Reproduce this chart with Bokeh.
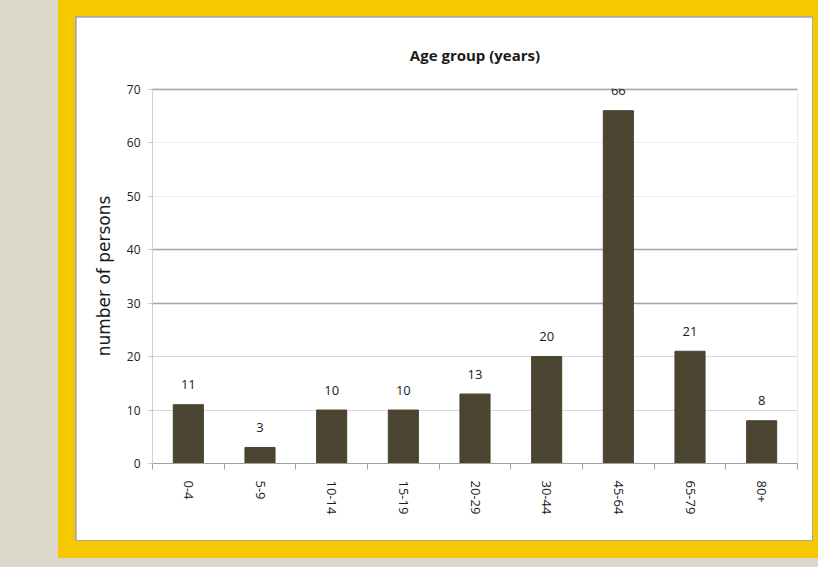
from bokeh.plotting import figure
from bokeh.models import (ColumnDataSource, FixedTicker, Grid, Column, Row, Spacer,
                          GlobalInlineStyleSheet, CustomJSTickFormatter)
from bokeh.embed import file_html
from bokeh.resources import INLINE
from bokeh.core.properties import value

# ---- data ----
title_text = "Age group (years)"
categories = ["0-4", "5-9", "10-14", "15-19", "20-29", "30-44", "45-64", "65-79", "80+"]
persons = [11, 3, 10, 10, 13, 20, 66, 21, 8]
y_ticks = [0, 10, 20, 30, 40, 50, 60, 70]
dark_grid = [30, 40, 70]
mid_grid = [10, 20]
light_grid = [50, 60]

FONT = "Open Sans"
BAR = "#4a4430"

xs = [i + 0.5 for i in range(len(categories))]
bounds = list(range(len(categories) + 1))
src = ColumnDataSource(dict(x=xs, persons=persons, label=[str(v) for v in persons]))

p = figure(width=736, height=523, x_range=(0, len(categories)), y_range=(0, 70.15),
           output_backend="svg", toolbar_location=None,
           min_border_left=76, min_border_right=15, min_border_top=71, min_border_bottom=77,
           background_fill_color="white", border_fill_color="white", outline_line_color=None)

p.title.text = title_text
p.title.align = "center"
p.title.text_font = FONT
p.title.text_font_size = "15px"
p.title.text_font_style = "bold"
p.title.text_color = "#1a1a1a"
p.title.standoff = 48

# grids
p.xgrid.visible = False
p.ygrid.ticker = FixedTicker(ticks=light_grid)
p.ygrid.grid_line_color = "#eeeeee"
p.ygrid.grid_line_width = 1
p.add_layout(Grid(dimension=1, ticker=FixedTicker(ticks=mid_grid),
                  grid_line_color="#d8d8d8", grid_line_width=1))
p.add_layout(Grid(dimension=1, ticker=FixedTicker(ticks=dark_grid),
                  grid_line_color="#a4a4a4", grid_line_width=1.5))

p.vbar(x="x", top="persons", width=0.42, source=src,
       fill_color=BAR, line_color=BAR, line_width=1)

p.text(x="x", y="persons", text="label", source=src, y_offset=-20,
       text_align="center", text_baseline="middle",
       text_font=value(FONT), text_font_size="13px", text_color="#1a1a1a")

# y axis
ya = p.yaxis[0]
ya.ticker = FixedTicker(ticks=y_ticks)
ya.axis_line_color = "#d0d0d0"
ya.major_tick_line_color = "#c8c8c8"
ya.major_tick_out = 4
ya.major_tick_in = 0
ya.minor_tick_out = 0
ya.minor_tick_in = 0
ya.major_label_standoff = 8
ya.major_label_text_font = FONT
ya.major_label_text_font_size = "12px"
ya.major_label_text_color = "#222222"
ya.axis_label = "number of persons"
ya.axis_label_text_font = "DejaVu Sans"
ya.axis_label_text_font_size = "17px"
ya.axis_label_text_font_style = "normal"
ya.axis_label_text_color = "#1a1a1a"
ya.axis_label_standoff = 10

# x axis
xa = p.xaxis[0]
xa.ticker = FixedTicker(ticks=xs, minor_ticks=bounds)
xa.formatter = CustomJSTickFormatter(args=dict(labels=categories),
                                     code="return labels[Math.floor(tick)];")
xa.axis_line_color = "#a0a0a0"
xa.major_tick_out = 0
xa.major_tick_in = 0
xa.minor_tick_out = 6
xa.minor_tick_in = 0
xa.minor_tick_line_color = "#a0a0a0"
xa.major_label_orientation = "vertical"
xa.major_label_standoff = 11
xa.major_label_text_font = FONT
xa.major_label_text_font_size = "13px"
xa.major_label_text_color = "#1a1a1a"

inner = Column(children=[p], styles={"background-color": "#a9a9a9", "padding": "1px"})
yellow = Column(children=[inner],
                styles={"background-color": "#F6C800", "padding": "16px 5px 17px 17px"})
layout = Row(children=[Spacer(width=58, height=558), yellow],
             styles={"background-color": "#DCD9CC"},
             stylesheets=[GlobalInlineStyleSheet(css="body { background-color: #DCD9CC; }")])

open("out.html", "w").write(file_html(layout, INLINE))
